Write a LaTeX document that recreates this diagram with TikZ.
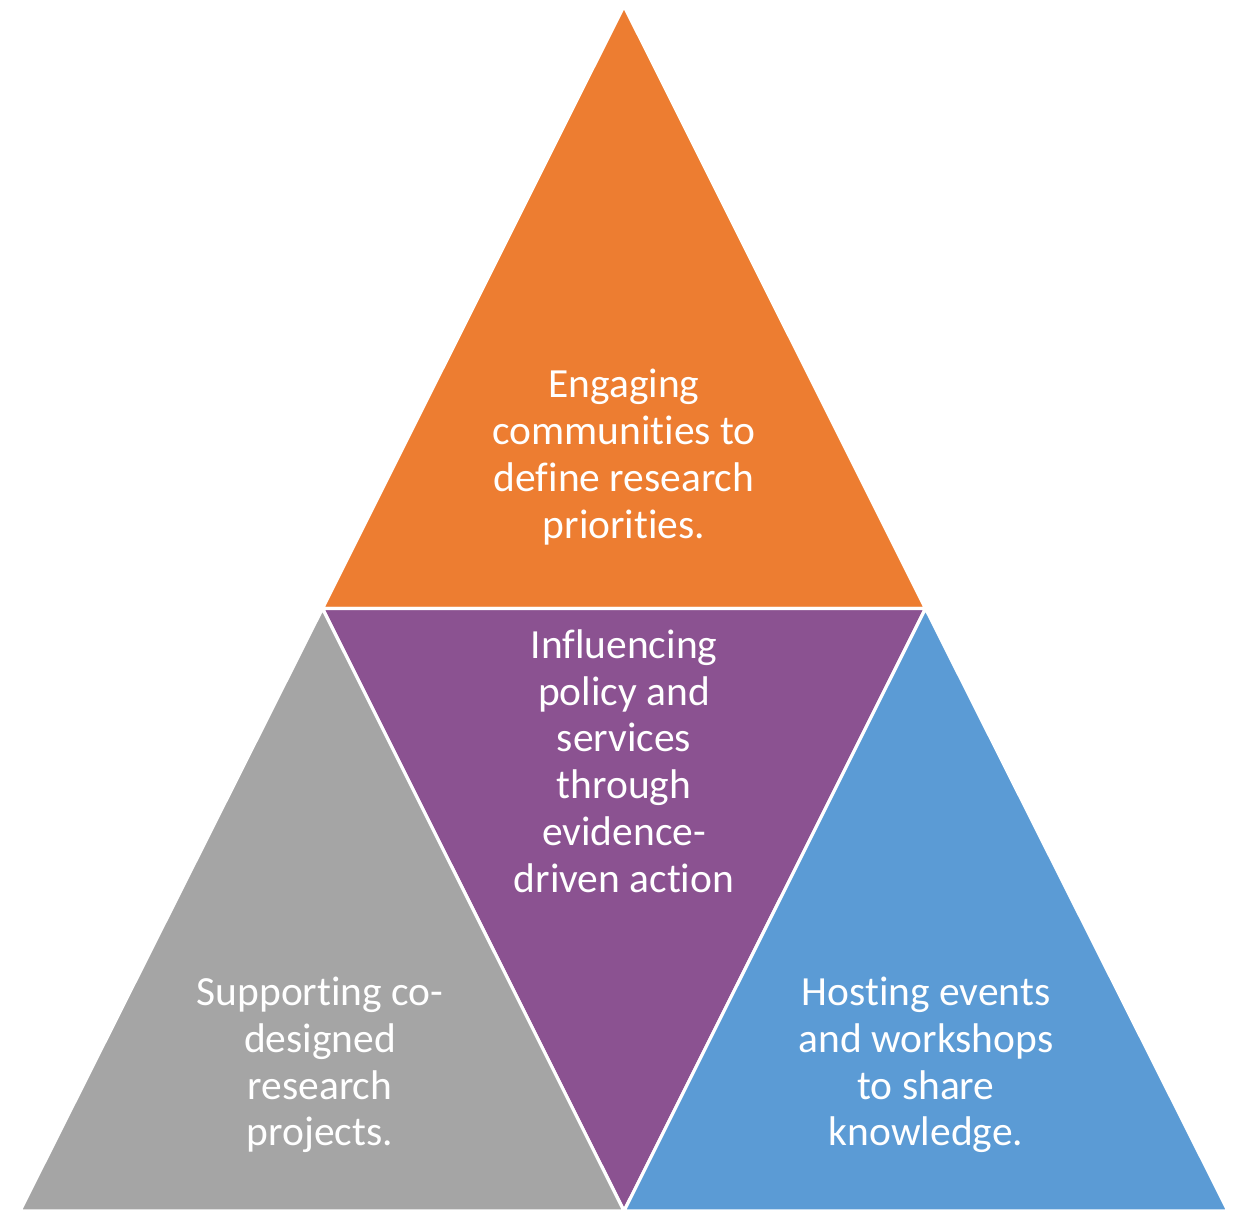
\documentclass[tikz,border=0pt]{standalone}
\usepackage{fontspec}
\setmainfont[Ligatures=NoCommon]{Carlito}
\usetikzlibrary{calc}

\begin{document}
\begin{tikzpicture}
    \definecolor{customorange}{RGB}{237, 125, 49}
    \definecolor{custompurple}{RGB}{139, 82, 145}
    \definecolor{customgrey}{RGB}{165, 165, 165}
    \definecolor{customblue}{RGB}{91, 155, 213}

    \tikzset{
        piece/.style={draw=white, line width=0.9pt},
        label/.style={text=white, align=center, font=\fontsize{11.8}{13.3}\selectfont}
    }

    \useasboundingbox (0,0) rectangle (12.38,12.11);
    \clip (0,0) rectangle (12.38,12.11);

    \coordinate (top) at (6.24,12.05);

    \coordinate (ml) at (3.225,6.025);
    \coordinate (mr) at (9.255,6.025);

    \coordinate (bl) at (0.20,0);
    \coordinate (bm) at (6.24,0);
    \coordinate (br) at (12.28,0);

    % The four pieces of the pyramid
    \fill[customorange, piece] (top) -- (mr) -- (ml) -- cycle;
    \fill[custompurple, piece] (ml) -- (mr) -- (bm) -- cycle;
    \fill[customgrey, piece] (ml) -- (bm) -- (bl) -- cycle;
    \fill[customblue, piece] (mr) -- (br) -- (bm) -- cycle;

    % Texts
    \node[label] (engaging) at (6.24,7.54) {Engaging\\communities to\\define research\\priorities.};
    \node[label] (influencing) at (6.24,4.50) {Influencing\\policy and\\services\\through\\evidence-\\driven action};
    \node[label] (supporting) at (3.20,1.46) {Supporting co-\\designed\\research\\projects.};
    \node[label] (hosting) at (9.26,1.46) {Hosting events\\and workshops\\to share\\knowledge.};
\end{tikzpicture}
\end{document}
